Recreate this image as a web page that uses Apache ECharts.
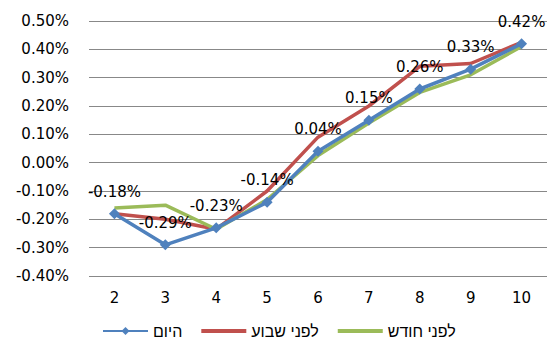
<!DOCTYPE html>
<html>
<head>
<meta charset="utf-8">
<script src="https://cdn.jsdelivr.net/npm/echarts@6/dist/echarts.min.js"></script>
<style>
  html, body { margin: 0; padding: 0; background: #fff; }
  #chart { width: 547px; height: 338px; }
</style>
</head>
<body>
<div id="chart"></div>
<script>
// Horizon (years) on the x axis
const categories = ['2', '3', '4', '5', '6', '7', '8', '9', '10'];

// Values in percent
const today = [-0.18, -0.29, -0.23, -0.14, 0.04, 0.15, 0.26, 0.33, 0.42];
const weekAgo = [-0.18, -0.20, -0.235, -0.10, 0.09, 0.20, 0.34, 0.35, 0.425];
const monthAgo = [-0.16, -0.15, -0.235, -0.13, 0.025, 0.14, 0.248, 0.31, 0.41];

const seriesNames = ['היום', 'לפני שבוע', 'לפני חודש'];
const seriesColors = ['#4F81BD', '#C0504D', '#9BBB59'];
const yMin = -0.4, yMax = 0.5, yStep = 0.1;

const pct = v => v.toFixed(2) + '%';

// Plain thin bar used as the legend key for the lines without markers
const lineKey = 'path://M0,0h45v4h-45z';

const chart = echarts.init(document.getElementById('chart'), null, { renderer: 'svg' });

chart.setOption({
  animation: false,
  backgroundColor: '#ffffff',
  textStyle: { fontFamily: 'DejaVu Sans' },
  grid: { left: 89, top: 21, width: 463, height: 255, containLabel: false },
  legend: {
    top: 318,
    left: 97,
    itemWidth: 45,
    itemHeight: 10,
    itemGap: 19,
    textStyle: { fontFamily: 'Liberation Sans', fontSize: 16, color: '#000' },
    data: [
      { name: seriesNames[0], textStyle: { width: 33 } },
      { name: seriesNames[1], icon: lineKey, itemStyle: { color: seriesColors[1] }, textStyle: { width: 78 } },
      { name: seriesNames[2], icon: lineKey, itemStyle: { color: seriesColors[2] }, textStyle: { width: 78 } }
    ]
  },
  xAxis: {
    type: 'category',
    data: categories,
    boundaryGap: true,
    position: 'bottom',
    axisLine: { show: false },
    axisTick: { show: false },
    axisLabel: { color: '#000', fontSize: 15, margin: 14, fontFamily: 'DejaVu Sans' }
  },
  yAxis: {
    type: 'value',
    min: yMin,
    max: yMax,
    interval: yStep,
    axisLine: { show: false },
    axisTick: { show: false },
    axisLabel: { color: '#000', fontSize: 15, margin: 20, formatter: pct, fontFamily: 'DejaVu Sans' },
    splitLine: { lineStyle: { color: '#888888', width: 1 } }
  },
  series: [
    {
      name: seriesNames[0],
      type: 'line',
      data: today,
      z: 4,
      symbol: 'diamond',
      symbolSize: 11,
      itemStyle: { color: seriesColors[0] },
      lineStyle: { color: seriesColors[0], width: 3.5 },
      label: {
        show: true,
        position: 'top',
        distance: 9,
        formatter: p => pct(p.value),
        color: '#000',
        fontSize: 15,
        fontFamily: 'DejaVu Sans'
      }
    },
    {
      name: seriesNames[1],
      type: 'line',
      data: weekAgo,
      z: 3,
      showSymbol: false,
      itemStyle: { color: seriesColors[1] },
      lineStyle: { color: seriesColors[1], width: 3.5 }
    },
    {
      name: seriesNames[2],
      type: 'line',
      data: monthAgo,
      z: 3,
      showSymbol: false,
      itemStyle: { color: seriesColors[2] },
      lineStyle: { color: seriesColors[2], width: 3.5 }
    }
  ]
});
</script>
</body>
</html>
